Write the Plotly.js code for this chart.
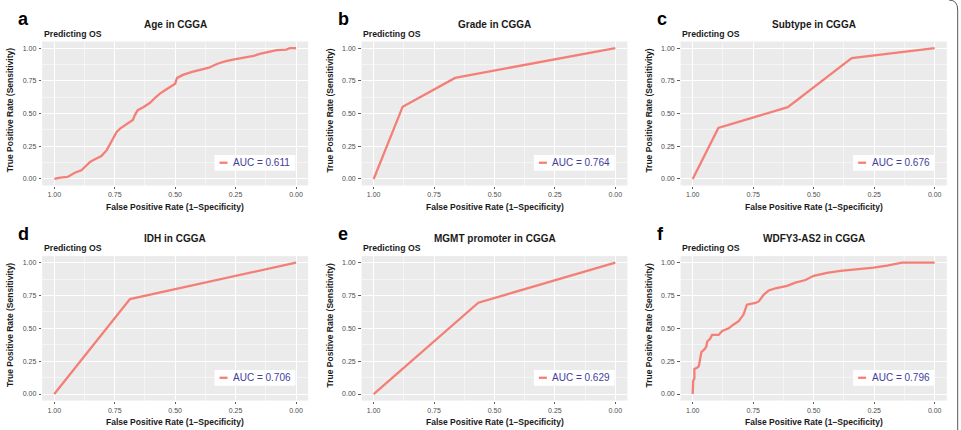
<!DOCTYPE html>
<html>
<head>
<meta charset="utf-8">
<script src="https://cdn.plot.ly/plotly-3.0.1.min.js"></script>
<style>
  html, body { margin: 0; padding: 0; background: #ffffff; }
  #chart { width: 961px; height: 430px; }
</style>
</head>
<body>
<div id="chart"></div>
<script>
// ROC curves for predicting OS in CGGA.
// x = specificity (drawn on a reversed axis), y = sensitivity.
const ageSpec = [1.000, 0.976, 0.945, 0.930, 0.915, 0.888, 0.873, 0.852, 0.832, 0.805, 0.783, 0.763, 0.742, 0.728, 0.698, 0.675, 0.666, 0.655, 0.632, 0.604, 0.583, 0.563, 0.542, 0.515, 0.500, 0.492, 0.468, 0.430, 0.395, 0.360, 0.325, 0.290, 0.250, 0.205, 0.175, 0.150, 0.120, 0.080, 0.040, 0.025, 0.000];
const ageSens = [0.000, 0.010, 0.015, 0.035, 0.048, 0.066, 0.092, 0.130, 0.150, 0.175, 0.220, 0.285, 0.360, 0.385, 0.420, 0.450, 0.490, 0.525, 0.548, 0.582, 0.620, 0.652, 0.678, 0.708, 0.728, 0.772, 0.795, 0.818, 0.835, 0.850, 0.880, 0.900, 0.915, 0.928, 0.940, 0.955, 0.966, 0.984, 0.988, 1.000, 1.000];

const gradeSpec = [1.000, 0.880, 0.663, 0.000];
const gradeSens = [0.000, 0.552, 0.772, 1.000];

const subtypeSpec = [1.000, 0.894, 0.607, 0.343, 0.000];
const subtypeSens = [0.000, 0.390, 0.548, 0.923, 1.000];

const idhSpec = [1.000, 0.687, 0.000];
const idhSens = [0.000, 0.723, 1.000];

const mgmtSpec = [1.000, 0.567, 0.000];
const mgmtSens = [0.000, 0.695, 1.000];

const wdfySpec = [1.000, 0.998, 0.998, 0.993, 0.993, 0.982, 0.975, 0.970, 0.964, 0.952, 0.944, 0.940, 0.928, 0.920, 0.893, 0.878, 0.851, 0.831, 0.810, 0.790, 0.776, 0.741, 0.727, 0.707, 0.686, 0.658, 0.610, 0.576, 0.534, 0.500, 0.445, 0.390, 0.307, 0.252, 0.197, 0.169, 0.135, 0.000];
const wdfySens = [0.000, 0.050, 0.100, 0.120, 0.190, 0.200, 0.210, 0.260, 0.320, 0.340, 0.360, 0.400, 0.420, 0.450, 0.450, 0.480, 0.500, 0.530, 0.555, 0.605, 0.680, 0.693, 0.705, 0.755, 0.788, 0.805, 0.823, 0.848, 0.868, 0.900, 0.922, 0.937, 0.950, 0.962, 0.977, 0.987, 1.000, 1.000];

const panelLetters = ["a", "b", "c", "d", "e", "f"];
const panelTitles = ["Age in CGGA", "Grade in CGGA", "Subtype in CGGA", "IDH in CGGA", "MGMT promoter in CGGA", "WDFY3-AS2 in CGGA"];
const aucValues = [0.611, 0.764, 0.676, 0.706, 0.629, 0.796];
const tickValues = [1, 0.75, 0.5, 0.25, 0];
const tickLabels = ["1.00", "0.75", "0.50", "0.25", "0.00"];

const curves = [
  [ageSpec, ageSens],
  [gradeSpec, gradeSens],
  [subtypeSpec, subtypeSens],
  [idhSpec, idhSens],
  [mgmtSpec, mgmtSens],
  [wdfySpec, wdfySens]
];

// Page geometry (pixels)
const W = 961, H = 430;
const colsPx = [[42.2, 308.1], [361.6, 627.4], [680.6, 946.8]];
const rowsPx = [[41.5, 185.5], [256.1, 400.6]];

const ROC_RED = "#F47F77";
const AUC_BLUE = "#3F3D9E";
const FONT = "Liberation Sans, Arial, Helvetica, sans-serif";

const px = v => v / W;
const py = v => 1 - v / H;

const traces = [];
const layout = {
  width: W,
  height: H,
  margin: { l: 0, r: 0, t: 0, b: 0 },
  paper_bgcolor: "#ffffff",
  plot_bgcolor: "#EBEBEB",
  font: { family: FONT, color: "#1a1a1a" },
  showlegend: false,
  annotations: [],
  shapes: []
};

function axisBase() {
  return {
    tickmode: "array",
    tickvals: tickValues,
    ticktext: tickLabels,
    ticks: "outside",
    ticklen: 2.5,
    tickwidth: 0.8,
    tickcolor: "#333333",
    tickfont: { family: FONT, size: 7, color: "#4D4D4D" },
    showgrid: true,
    gridcolor: "#ffffff",
    gridwidth: 1,
    minor: { dtick: 0.125, tick0: 0, showgrid: true, gridcolor: "#ffffff", gridwidth: 0.5, ticks: "" },
    zeroline: false,
    showline: false,
    fixedrange: true
  };
}

curves.forEach(([spec, sens], i) => {
  const r = Math.floor(i / 3), c = i % 3;
  const [L, R] = colsPx[c];
  const [T, B] = rowsPx[r];
  const sfx = i === 0 ? "" : String(i + 1);
  const xa = "x" + sfx, ya = "y" + sfx;

  traces.push({
    type: "scatter",
    mode: "lines",
    x: spec,
    y: sens,
    xaxis: xa,
    yaxis: ya,
    line: { color: ROC_RED, width: 2.3 },
    hoverinfo: "skip"
  });

  layout["xaxis" + sfx] = Object.assign(axisBase(), {
    domain: [px(L), px(R)],
    anchor: ya,
    range: [1.05, -0.05],
    ticklabelstandoff: 0
  });
  layout["yaxis" + sfx] = Object.assign(axisBase(), {
    domain: [py(B), py(T)],
    anchor: xa,
    range: [-0.05, 1.05],
    ticklabelstandoff: 1
  });

  const cx = (L + R) / 2, cy = (T + B) / 2;
  const ann = layout.annotations;

  // panel letter
  ann.push({ xref: "paper", yref: "paper", x: px(L - 26), y: py(T - 22), xanchor: "left", yanchor: "middle",
    text: "<b>" + panelLetters[i] + "</b>", showarrow: false, font: { size: 18, color: "#000000" } });
  // panel title
  ann.push({ xref: "paper", yref: "paper", x: px(cx), y: py(T - 17.5), xanchor: "center", yanchor: "middle",
    text: "<b>" + panelTitles[i] + "</b>", showarrow: false, font: { size: 10, color: "#1a1a1a" } });
  // subtitle
  ann.push({ xref: "paper", yref: "paper", x: px(L - 0.5), y: py(T - 7.8), xanchor: "left", yanchor: "middle",
    text: "<b>Predicting OS</b>", showarrow: false, font: { size: 8.7, color: "#1a1a1a" } });
  // x axis title
  ann.push({ xref: "paper", yref: "paper", x: px(cx), y: py(B + 21.5), xanchor: "center", yanchor: "middle",
    text: "<b>False Positive Rate (1\u2212Specificity)</b>", showarrow: false, font: { size: 8.5, color: "#1a1a1a" } });
  // y axis title
  ann.push({ xref: "paper", yref: "paper", x: px(L - 31.5), y: py(cy - 3), xanchor: "center", yanchor: "middle",
    text: "<b>True Positive Rate (Sensitivity)</b>", textangle: -90, showarrow: false, font: { size: 8.5, color: "#1a1a1a" } });
  // legend label
  ann.push({ xref: xa + " domain", yref: ya + " domain", x: 0.71, y: 0.158, xanchor: "left", yanchor: "middle",
    text: "AUC = " + aucValues[i].toFixed(3), showarrow: false, font: { size: 10, color: AUC_BLUE } });

  // legend box and key
  layout.shapes.push({ type: "rect", xref: xa + " domain", yref: ya + " domain",
    x0: 0.648, x1: 0.952, y0: 0.103, y1: 0.212, fillcolor: "#ffffff", line: { width: 0 }, layer: "above" });
  layout.shapes.push({ type: "line", xref: xa + " domain", yref: ya + " domain",
    x0: 0.667, x1: 0.697, y0: 0.158, y1: 0.158, line: { color: ROC_RED, width: 2.3 }, layer: "above" });
});

// figure frame on the right edge
layout.shapes.push({
  type: "path", xref: "paper", yref: "paper",
  path: "M " + px(957.7) + "," + py(430) + " L " + px(957.7) + "," + py(10) +
        " Q " + px(957.7) + "," + py(0) + " " + px(949) + "," + py(0),
  line: { color: "#555555", width: 1 }
});

Plotly.newPlot("chart", traces, layout, { staticPlot: true, displayModeBar: false });
</script>
</body>
</html>
